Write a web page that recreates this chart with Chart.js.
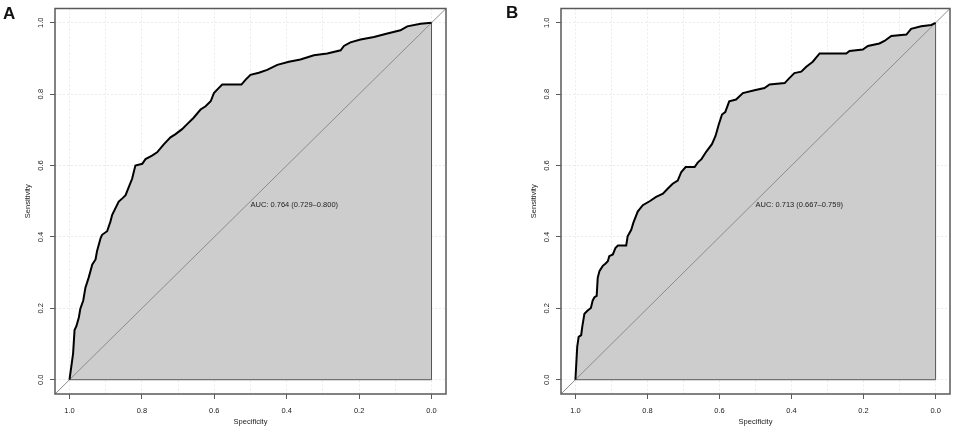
<!DOCTYPE html>
<html>
<head>
<meta charset="utf-8">
<script src="https://cdn.jsdelivr.net/npm/chart.js@4.4.1/dist/chart.umd.min.js"></script>
<style>
  html, body { margin: 0; padding: 0; background: #fff; }
  #wrap { position: relative; width: 957px; height: 431px; overflow: hidden; }
  .panel { position: absolute; top: 0; height: 431px; }
  #pa { left: 0; width: 478px; }
  #pb { left: 506px; width: 451px; }
  .tag { position: absolute; font: bold 17px "Liberation Sans", Arial, sans-serif; color: #111; }
</style>
</head>
<body>
<div id="wrap">
  <div class="panel" id="pa"><canvas id="rocA"></canvas></div>
  <div class="panel" id="pb"><canvas id="rocB"></canvas></div>
  <div class="tag" style="left:3px;top:4px">A</div>
  <div class="tag" style="left:506px;top:3px">B</div>
</div>
<script>
// Two ROC curves (pROC style): specificity runs 1 -> 0 left to right.

const TICKS = [0, 0.2, 0.4, 0.6, 0.8, 1.0];
const GRID_X = [0, 0.1, 0.2, 0.3, 0.4, 0.5, 0.6, 0.7, 0.8, 0.9, 1.0];
const AXIS_MIN = -0.04;
const AXIS_MAX = 1.04;

// panel A
const specA = [1.0, 0.995, 0.990, 0.986, 0.981, 0.974, 0.970, 0.962, 0.956, 0.947,
  0.937, 0.928, 0.924, 0.914, 0.910, 0.896, 0.887, 0.882, 0.864, 0.854,
  0.845, 0.836, 0.827, 0.818, 0.799, 0.790, 0.772, 0.758, 0.739, 0.721,
  0.707, 0.689, 0.675, 0.657, 0.638, 0.624, 0.610, 0.601, 0.588, 0.578,
  0.525, 0.514, 0.500, 0.477, 0.454, 0.426, 0.394, 0.362, 0.325, 0.288,
  0.251, 0.242, 0.224, 0.196, 0.159, 0.122, 0.086, 0.067, 0.030, 0.0];
const sensA = [0.0, 0.037, 0.074, 0.139, 0.150, 0.175, 0.199, 0.222, 0.258, 0.286,
  0.323, 0.337, 0.360, 0.397, 0.406, 0.416, 0.443, 0.462, 0.499, 0.508,
  0.517, 0.540, 0.563, 0.600, 0.605, 0.618, 0.628, 0.637, 0.660, 0.679,
  0.688, 0.702, 0.716, 0.734, 0.757, 0.766, 0.780, 0.803, 0.817, 0.827,
  0.827, 0.840, 0.854, 0.860, 0.868, 0.882, 0.891, 0.897, 0.909, 0.914,
  0.923, 0.935, 0.945, 0.953, 0.960, 0.970, 0.979, 0.990, 0.997, 1.0];

// panel B
const specB = [1.0, 0.998, 0.995, 0.991, 0.984, 0.981, 0.975, 0.966, 0.957, 0.952,
  0.947, 0.941, 0.938, 0.933, 0.924, 0.917, 0.910, 0.906, 0.896, 0.889,
  0.882, 0.859, 0.855, 0.845, 0.839, 0.827, 0.813, 0.794, 0.776, 0.757,
  0.744, 0.730, 0.716, 0.706, 0.694, 0.669, 0.660, 0.650, 0.636, 0.621,
  0.611, 0.602, 0.593, 0.584, 0.573, 0.554, 0.535, 0.503, 0.475, 0.461,
  0.419, 0.406, 0.392, 0.373, 0.359, 0.341, 0.322, 0.248, 0.239, 0.202,
  0.188, 0.156, 0.142, 0.123, 0.081, 0.068, 0.040, 0.012, 0.0];
const sensB = [0.0, 0.037, 0.092, 0.120, 0.125, 0.148, 0.185, 0.194, 0.201, 0.222,
  0.231, 0.235, 0.286, 0.305, 0.319, 0.325, 0.332, 0.346, 0.351, 0.369,
  0.376, 0.376, 0.402, 0.420, 0.440, 0.471, 0.489, 0.500, 0.512, 0.521,
  0.535, 0.549, 0.558, 0.582, 0.596, 0.596, 0.609, 0.618, 0.640, 0.660,
  0.683, 0.715, 0.743, 0.750, 0.780, 0.785, 0.803, 0.811, 0.817, 0.827,
  0.831, 0.845, 0.859, 0.863, 0.877, 0.891, 0.914, 0.914, 0.921, 0.925,
  0.935, 0.942, 0.949, 0.963, 0.967, 0.983, 0.990, 0.994, 1.0];

const AUC_A = "AUC: 0.764 (0.729\u20130.800)";
const AUC_B = "AUC: 0.713 (0.667\u20130.759)";

const FONT = '"Liberation Sans", Arial, sans-serif';
const INK = "#222";
const FRAME = "#5a5a5a";
const GRID = "#ebebeb";

const boxPlugin = {
  id: "box",
  afterDraw(chart) {
    const { ctx, chartArea: a } = chart;
    ctx.save();
    ctx.strokeStyle = FRAME;
    ctx.lineWidth = 1.5;
    ctx.strokeRect(a.left, a.top, a.right - a.left, a.bottom - a.top);
    ctx.restore();
  },
};

const aucPlugin = {
  id: "auc",
  afterDatasetsDraw(chart, args, opts) {
    const { ctx, scales } = chart;
    ctx.save();
    ctx.font = `7.5px ${FONT}`;
    ctx.fillStyle = INK;
    ctx.textAlign = "left";
    ctx.textBaseline = "top";
    ctx.fillText(opts.text, scales.x.getPixelForValue(0.5), scales.y.getPixelForValue(0.5));
    ctx.restore();
  },
};

function makeRoc(id, spec, sens, aucText, padRight) {
  const curve = spec.map((s, i) => ({ x: s, y: sens[i] }));
  new Chart(document.getElementById(id), {
    type: "line",
    data: {
      datasets: [
        {
          data: curve,
          borderColor: "#000",
          borderWidth: 2,
          backgroundColor: "#cdcdcd",
          fill: { value: 0 },
          pointRadius: 0,
          tension: 0,
          order: 0,
        },
        {
          // chance line, corner to corner of the plot box
          data: [{ x: AXIS_MAX, y: AXIS_MIN }, { x: AXIS_MIN, y: AXIS_MAX }],
          borderColor: "#8c8c8c",
          borderWidth: 1,
          pointRadius: 0,
          fill: false,
          order: 1,
        },
        {
          data: [{ x: 1, y: 0 }, { x: 0, y: 0 }, { x: 0, y: 1 }],
          borderColor: "#555",
          borderWidth: 1,
          pointRadius: 0,
          fill: false,
          order: 2,
        },
      ],
    },
    options: {
      responsive: true,
      maintainAspectRatio: false,
      animation: false,
      layout: { padding: { top: 5, right: padRight, left: 0, bottom: 0 } },
      plugins: {
        legend: { display: false },
        tooltip: { enabled: false },
        filler: { drawTime: "beforeDatasetsDraw" },
        auc: { text: aucText },
      },
      scales: {
        x: {
          type: "linear",
          reverse: true,
          min: AXIS_MIN,
          max: AXIS_MAX,
          afterBuildTicks: s => { s.ticks = TICKS.map(v => ({ value: v })); },
          afterFit: s => { s.height = 37; },
          ticks: {
            color: INK,
            font: { family: FONT, size: 7.5 },
            padding: 7,
            callback: v => v.toFixed(1),
          },
          grid: { drawOnChartArea: false, tickColor: FRAME, tickLength: 5 },
          border: { display: false },
          title: {
            display: true,
            text: "Specificity",
            color: INK,
            font: { family: FONT, size: 7.5 },
            padding: { top: 0, bottom: 4.5 },
          },
        },
        xg: {
          type: "linear",
          position: "bottom",
          reverse: true,
          min: AXIS_MIN,
          max: AXIS_MAX,
          afterBuildTicks: s => { s.ticks = GRID_X.map(v => ({ value: v })); },
          afterFit: s => { s.height = 0; },
          ticks: { display: false },
          grid: { color: GRID, drawTicks: false },
          border: { display: false, dash: [2, 2] },
        },
        y: {
          type: "linear",
          min: AXIS_MIN,
          max: AXIS_MAX,
          afterBuildTicks: s => { s.ticks = TICKS.map(v => ({ value: v })); },
          afterFit: s => { s.width = 55; },
          ticks: {
            color: INK,
            font: { family: FONT, size: 7.5 },
            padding: 4,
            minRotation: 90,
            maxRotation: 90,
            crossAlign: "center",
            callback: v => v.toFixed(1),
          },
          grid: { color: GRID, tickColor: FRAME, tickLength: 5 },
          border: { display: false, dash: [2, 2] },
          title: {
            display: true,
            text: "Sensitivity",
            color: INK,
            font: { family: FONT, size: 7.5 },
            padding: { top: 23.5, bottom: 0 },
          },
        },
      },
    },
    plugins: [boxPlugin, aucPlugin],
  });
}

makeRoc("rocA", specA, sensA, AUC_A, 32);
makeRoc("rocB", specB, sensB, AUC_B, 7);
</script>
</body>
</html>
